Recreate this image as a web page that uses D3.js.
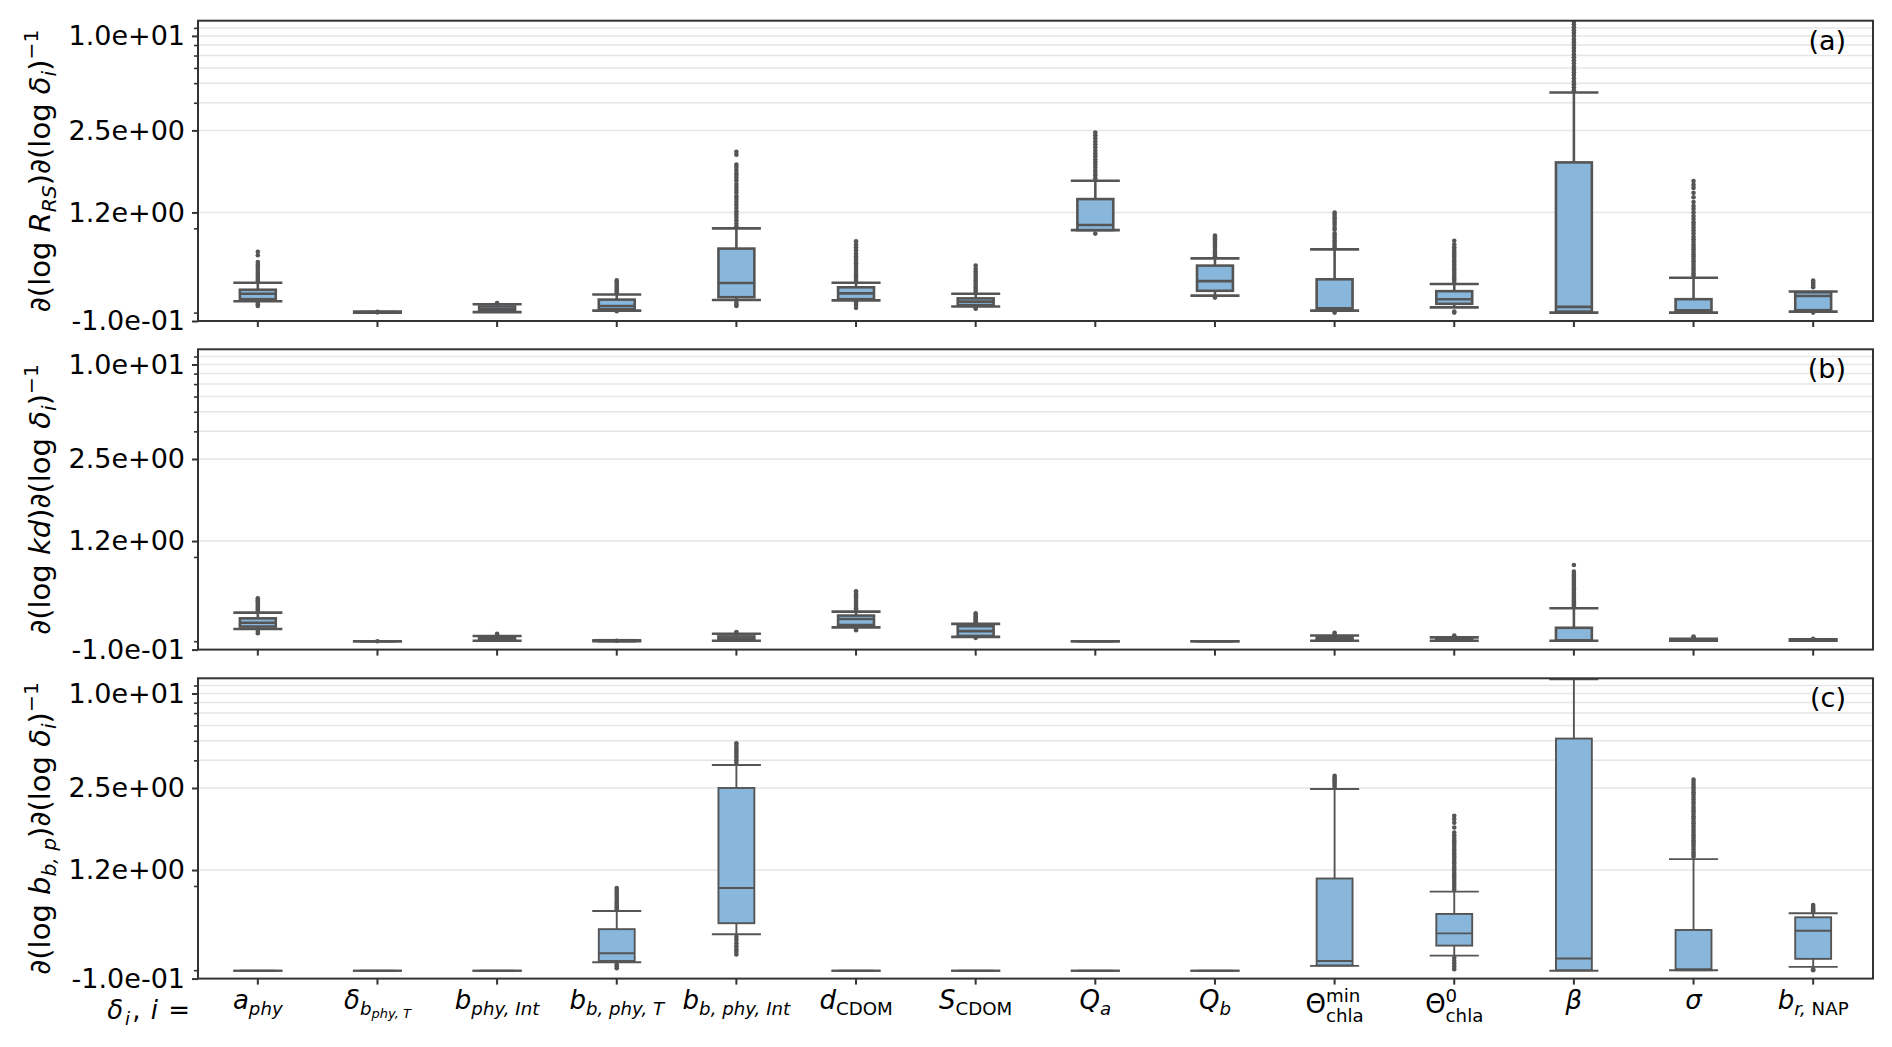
<!DOCTYPE html>
<html lang="en">
<head>
<meta charset="UTF-8">
<script src="https://d3js.org/d3.v7.min.js"></script>
<title>Sensitivity boxplots</title>
<style>
  body { margin: 0; background: #fff; }
  text { font-family: "DejaVu Sans", sans-serif; white-space: pre; fill: #000; }
</style>
</head>
<body>
<svg id="chart" width="1892" height="1047"></svg>
<script>
// ---- data ----
const categories = ["a_phy", "delta_bphyT", "b_phyInt", "b_bphyT", "b_bphyInt", "d_CDOM", "S_CDOM",
                    "Q_a", "Q_b", "Theta_min", "Theta_0", "beta", "sigma", "b_rNAP"];

// y ticks (position value -> printed label)
const yTickVals = [0.122, 0.6, 2, 8];
const yTickLabels = ["-1.0e-01", "1.2e+00", "2.5e+00", "1.0e+01"];
const yMinorVals = [0.138, 0.475, 3, 4, 5, 6, 7, 9];
const gridVals = [0.6, 2, 3, 4, 5, 6, 7, 8, 9];

// [whisker low, q1, median, q3, whisker high]
const statsRrs = [
  [0.163, 0.168, 0.182, 0.193, 0.214],
  [0.138, 0.139, 0.139, 0.139, 0.140],
  [0.139, 0.141, 0.145, 0.151, 0.156],
  [0.142, 0.145, 0.152, 0.167, 0.180],
  [0.166, 0.173, 0.213, 0.353, 0.475],
  [0.165, 0.168, 0.183, 0.200, 0.214],
  [0.151, 0.154, 0.162, 0.170, 0.182],
  [0.463, 0.463, 0.499, 0.730, 0.955],
  [0.177, 0.190, 0.219, 0.275, 0.306],
  [0.142, 0.143, 0.147, 0.225, 0.349],
  [0.149, 0.157, 0.168, 0.189, 0.210],
  [0.138, 0.140, 0.150, 1.25, 3.49],
  [0.138, 0.141, 0.143, 0.168, 0.230],
  [0.140, 0.143, 0.176, 0.186, 0.188]
];
const fliersRrs = [
  [0.152, 0.156, 0.160, 0.22, 0.226, 0.233, 0.24, 0.247, 0.255, 0.263, 0.271, 0.28, 0.29, 0.32, 0.337],
  [0.1385, 0.1395],
  [0.157, 0.159],
  [0.141, 0.184, 0.189, 0.194, 0.199, 0.205, 0.211, 0.216, 0.222],
  [0.152, 0.155, 0.16, 0.49, 0.51, 0.535, 0.56, 0.585, 0.61, 0.64, 0.67, 0.70, 0.73, 0.76, 0.80, 0.835,
   0.87, 0.91, 0.96, 1.0, 1.04, 1.07, 1.12, 1.17, 1.21, 1.40, 1.46],
  [0.148, 0.155, 0.16, 0.22, 0.227, 0.234, 0.242, 0.25, 0.258, 0.266, 0.275, 0.285, 0.295, 0.305, 0.316,
   0.328, 0.345, 0.36, 0.375, 0.393],
  [0.146, 0.148, 0.188, 0.194, 0.2, 0.207, 0.214, 0.221, 0.228, 0.236, 0.244, 0.252, 0.262, 0.275],
  [0.44, 0.99, 1.03, 1.07, 1.11, 1.16, 1.21, 1.26, 1.31, 1.37, 1.43, 1.49, 1.56, 1.63, 1.7, 1.78, 1.86, 1.94],
  [0.172, 0.315, 0.325, 0.335, 0.346, 0.357, 0.369, 0.38, 0.393, 0.405, 0.417, 0.428],
  [0.138, 0.36, 0.372, 0.385, 0.398, 0.412, 0.426, 0.44, 0.465, 0.48, 0.5, 0.52, 0.54, 0.56, 0.58, 0.60],
  [0.138, 0.14, 0.217, 0.224, 0.232, 0.24, 0.248, 0.256, 0.265, 0.274, 0.283, 0.293, 0.303, 0.313, 0.324,
   0.335, 0.347, 0.36, 0.375, 0.396],
  [3.6, 3.76, 3.93, 4.1, 4.3, 4.5, 4.7, 4.9, 5.1, 5.35, 5.6, 5.85, 6.1, 6.4, 6.7, 7.0, 7.3, 7.6, 8.0,
   8.35, 8.7, 9.1, 9.5, 9.9, 10.3],
  [0.238, 0.246, 0.255, 0.264, 0.273, 0.283, 0.293, 0.303, 0.314, 0.325, 0.337, 0.349, 0.362, 0.375,
   0.39, 0.405, 0.42, 0.44, 0.46, 0.48, 0.5, 0.52, 0.545, 0.57, 0.6, 0.63, 0.66, 0.7, 0.75, 0.8, 0.86,
   0.9, 0.95],
  [0.138, 0.2, 0.205, 0.21, 0.215, 0.221]
];

const statsKd = [
  [0.165, 0.171, 0.181, 0.193, 0.210],
  [0.138, 0.138, 0.138, 0.138, 0.138],
  [0.139, 0.140, 0.143, 0.146, 0.149],
  [0.138, 0.138, 0.139, 0.140, 0.140],
  [0.139, 0.140, 0.143, 0.148, 0.154],
  [0.169, 0.175, 0.191, 0.201, 0.213],
  [0.147, 0.149, 0.160, 0.172, 0.178],
  [0.138, 0.138, 0.138, 0.138, 0.138],
  [0.138, 0.138, 0.138, 0.138, 0.138],
  [0.139, 0.140, 0.142, 0.146, 0.150],
  [0.139, 0.139, 0.141, 0.144, 0.146],
  [0.139, 0.139, 0.140, 0.168, 0.224],
  [0.139, 0.139, 0.140, 0.142, 0.143],
  [0.139, 0.139, 0.140, 0.141, 0.142]
];
const fliersKd = [
  [0.155, 0.16, 0.215, 0.22, 0.225, 0.23, 0.236, 0.242, 0.248, 0.253, 0.259],
  [0.138],
  [0.151, 0.154],
  [0.139],
  [0.156, 0.158],
  [0.162, 0.165, 0.218, 0.224, 0.23, 0.236, 0.242, 0.249, 0.256, 0.263, 0.27, 0.278, 0.287],
  [0.145, 0.182, 0.186, 0.19, 0.194, 0.198, 0.203, 0.208],
  [],
  [],
  [0.153, 0.156],
  [0.148, 0.15],
  [0.23, 0.237, 0.244, 0.251, 0.258, 0.266, 0.274, 0.282, 0.29, 0.3, 0.31, 0.32, 0.33, 0.34, 0.35,
   0.36, 0.37, 0.383, 0.422],
  [0.146, 0.148],
  [0.143]
];

const statsBbp = [
  [0.137, 0.137, 0.137, 0.137, 0.137],
  [0.137, 0.137, 0.137, 0.137, 0.137],
  [0.137, 0.137, 0.137, 0.137, 0.137],
  [0.155, 0.158, 0.177, 0.252, 0.329],
  [0.234, 0.275, 0.461, 2.0, 2.80],
  [0.137, 0.137, 0.137, 0.137, 0.137],
  [0.137, 0.137, 0.137, 0.137, 0.137],
  [0.137, 0.137, 0.137, 0.137, 0.137],
  [0.137, 0.137, 0.137, 0.137, 0.137],
  [0.147, 0.148, 0.158, 0.530, 1.97],
  [0.171, 0.198, 0.237, 0.315, 0.437],
  [0.137, 0.138, 0.164, 4.13, 9.84],
  [0.138, 0.138, 0.140, 0.249, 0.704],
  [0.145, 0.163, 0.246, 0.300, 0.318]
];
const fliersBbp = [
  [], [], [],
  [0.142, 0.146, 0.15, 0.338, 0.347, 0.357, 0.367, 0.377, 0.388, 0.4, 0.412, 0.424, 0.436, 0.448, 0.461],
  [0.174, 0.181, 0.188, 0.196, 0.205, 0.215, 0.225, 2.9, 3.0, 3.1, 3.2, 3.3, 3.4, 3.5, 3.6, 3.72, 3.85],
  [], [], [], [],
  [2.03, 2.09, 2.15, 2.21, 2.27, 2.33, 2.39],
  [0.14, 0.146, 0.152, 0.158, 0.165, 0.452, 0.468, 0.484, 0.5, 0.518, 0.536, 0.555, 0.575, 0.595, 0.615,
   0.637, 0.66, 0.683, 0.707, 0.73, 0.757, 0.783, 0.81, 0.84, 0.87, 0.9, 0.93, 0.96, 1.0, 1.04, 1.12,
   1.2, 1.27, 1.33],
  [],
  [0.73, 0.755, 0.78, 0.81, 0.84, 0.87, 0.9, 0.93, 0.965, 1.0, 1.035, 1.07, 1.11, 1.15, 1.19, 1.23,
   1.28, 1.32, 1.37, 1.42, 1.47, 1.52, 1.58, 1.63, 1.69, 1.75, 1.82, 1.88, 1.95, 2.02, 2.1, 2.18, 2.26],
  [0.138, 0.14, 0.325, 0.333, 0.341, 0.35, 0.359]
];

// mathtext-like labels: i = italic, l = level (1 sup, -1 sub, -2 subsub), stack = share x with previous
const xLabelParts = [
  [{t: "a", i: 1}, {t: "phy", i: 1, l: -1}],
  [{t: "δ", i: 1}, {t: "b", i: 1, l: -1}, {t: "phy, T", i: 1, l: -2}],
  [{t: "b", i: 1}, {t: "phy, Int", i: 1, l: -1}],
  [{t: "b", i: 1}, {t: "b, phy, T", i: 1, l: -1}],
  [{t: "b", i: 1}, {t: "b, phy, Int", i: 1, l: -1}],
  [{t: "d", i: 1}, {t: "CDOM", l: -1}],
  [{t: "S", i: 1}, {t: "CDOM", l: -1}],
  [{t: "Q", i: 1}, {t: "a", i: 1, l: -1}],
  [{t: "Q", i: 1}, {t: "b", i: 1, l: -1}],
  [{t: "Θ"}, {t: "min", l: 1}, {t: "chla", l: -1, stack: 1}],
  [{t: "Θ"}, {t: "0", l: 1}, {t: "chla", l: -1, stack: 1}],
  [{t: "β", i: 1}],
  [{t: "σ", i: 1}],
  [{t: "b", i: 1}, {t: "r,", i: 1, l: -1}, {t: " NAP", l: -1}]
];
const yLabelRrs = [{t: "∂(log "}, {t: "R", i: 1}, {t: "RS", i: 1, l: -1}, {t: ")∂(log "}, {t: "δ", i: 1},
                   {t: "i", i: 1, l: -1}, {t: ")"}, {t: "−1", l: 1}];
const yLabelKd = [{t: "∂(log "}, {t: "kd", i: 1}, {t: ")∂(log "}, {t: "δ", i: 1},
                  {t: "i", i: 1, l: -1}, {t: ")"}, {t: "−1", l: 1}];
const yLabelBbp = [{t: "∂(log "}, {t: "b", i: 1}, {t: "b, p", i: 1, l: -1}, {t: ")∂(log "}, {t: "δ", i: 1},
                   {t: "i", i: 1, l: -1}, {t: ")"}, {t: "−1", l: 1}];
const xLead = [{t: "δ", i: 1}, {t: "i", i: 1, l: -1}, {t: ", "}, {t: "i", i: 1}, {t: " ="}];

// ---- layout ----
const svg = d3.select("#chart");
const plotLeft = 198, plotRight = 1873, panelH = 300.3;
const lineCol = "#555555", boxFill = "#89b7dc", gridCol = "#e6e6e6", spineCol = "#333333";
const tickFs = 27, labelFs = 29;

const x = d3.scaleBand().domain(categories).range([plotLeft, plotRight]).padding(0);

// one <text>, one <tspan> per piece; returns total width
function mathText(g, parts, size, gap) {
  gap = gap || 0;
  const t = g.append("text");
  let cx = 0, lastStart = 0;
  parts.forEach((p, k) => {
    const lvl = p.l || 0;
    const fs = size * (lvl === 0 ? 1 : lvl === -2 ? 0.5 : 0.7);
    let dy = 0;
    if (lvl === -1) dy = p.stack ? 0.36 * size : 0.22 * size;
    if (lvl === -2) dy = 0.36 * size;
    if (lvl === 1) dy = -0.42 * size;
    const sx = p.stack ? lastStart : cx + (k > 0 ? gap : 0);
    const ts = t.append("tspan")
      .attr("x", sx).attr("y", dy)
      .attr("font-size", fs)
      .attr("font-style", p.i ? "italic" : "normal")
      .text(p.t);
    const w = ts.node().getComputedTextLength();
    if (p.stack) { cx = Math.max(cx, sx + w); }
    else { lastStart = sx; cx = sx + w; }
  });
  return cx;
}

const panels = [
  {top: 20.7, stats: statsRrs, fliers: fliersRrs, label: yLabelRrs, tag: "(a)", lw: 2.6},
  {top: 349.3, stats: statsKd, fliers: fliersKd, label: yLabelKd, tag: "(b)", lw: 2.6},
  {top: 678.3, stats: statsBbp, fliers: fliersBbp, label: yLabelBbp, tag: "(c)", lw: 1.9}
];

panels.forEach((p, pi) => {
  const y = d3.scaleLog().domain([0.122, 10]).range([p.top + panelH, p.top]);
  const g = svg.append("g");

  g.append("clipPath").attr("id", "clip" + pi)
    .append("rect").attr("x", plotLeft).attr("y", p.top).attr("width", plotRight - plotLeft).attr("height", panelH);

  // grid
  g.selectAll("line.grid").data(gridVals).enter().append("line")
    .attr("class", "grid")
    .attr("x1", plotLeft).attr("x2", plotRight)
    .attr("y1", d => y(d)).attr("y2", d => y(d))
    .attr("stroke", gridCol).attr("stroke-width", 1.5);

  // boxes
  const boxes = g.append("g").attr("clip-path", "url(#clip" + pi + ")")
    .selectAll("g.box")
    .data(categories.map((c, i) => ({cat: c, s: p.stats[i], f: p.fliers[i]})))
    .enter().append("g").attr("class", "box");

  boxes.each(function(d) {
    const b = d3.select(this);
    const [lo, q1, med, q3, hi] = d.s;
    const cx = x(d.cat) + x.bandwidth() / 2;
    const bw = x.bandwidth() * 0.30, cw = x.bandwidth() * 0.41;
    b.append("line").attr("x1", cx).attr("x2", cx).attr("y1", y(q3)).attr("y2", y(hi))
      .attr("stroke", lineCol).attr("stroke-width", p.lw);
    b.append("line").attr("x1", cx).attr("x2", cx).attr("y1", y(q1)).attr("y2", y(lo))
      .attr("stroke", lineCol).attr("stroke-width", p.lw);
    [lo, hi].forEach(v => {
      b.append("line").attr("x1", cx - cw / 2).attr("x2", cx + cw / 2).attr("y1", y(v)).attr("y2", y(v))
        .attr("stroke", lineCol).attr("stroke-width", p.lw);
    });
    b.append("rect").attr("x", cx - bw / 2).attr("y", y(q3))
      .attr("width", bw).attr("height", Math.max(0, y(q1) - y(q3)))
      .attr("fill", boxFill).attr("stroke", lineCol).attr("stroke-width", p.lw);
    b.append("line").attr("x1", cx - bw / 2).attr("x2", cx + bw / 2).attr("y1", y(med)).attr("y2", y(med))
      .attr("stroke", lineCol).attr("stroke-width", p.lw);
    b.selectAll("circle").data(d.f).enter().append("circle")
      .attr("cx", cx).attr("cy", v => y(v)).attr("r", 2.3)
      .attr("fill", lineCol);
  });

  // frame
  g.append("rect").attr("x", plotLeft).attr("y", p.top)
    .attr("width", plotRight - plotLeft).attr("height", panelH)
    .attr("fill", "none").attr("stroke", spineCol).attr("stroke-width", 2);

  // y axis
  const yAxis = g.append("g").attr("transform", "translate(" + plotLeft + ",0)")
    .call(d3.axisLeft(y).tickValues(yTickVals).tickFormat((d, i) => yTickLabels[i]).tickSize(6).tickPadding(7));
  yAxis.select(".domain").remove();
  yAxis.selectAll("line").attr("stroke", spineCol).attr("stroke-width", 2);
  yAxis.selectAll("text").attr("font-size", tickFs).attr("font-family", "DejaVu Sans").attr("fill", "#000");

  const yMinor = g.append("g").attr("transform", "translate(" + plotLeft + ",0)")
    .call(d3.axisLeft(y).tickValues(yMinorVals).tickFormat("").tickSize(4));
  yMinor.select(".domain").remove();
  yMinor.selectAll("line").attr("stroke", spineCol).attr("stroke-width", 1.6);

  // x axis ticks
  const xAxis = g.append("g").attr("transform", "translate(0," + (p.top + panelH) + ")")
    .call(d3.axisBottom(x).tickSize(6).tickFormat(""));
  xAxis.select(".domain").remove();
  xAxis.selectAll("line").attr("stroke", spineCol).attr("stroke-width", 2);

  // y label (rotated)
  const yl = svg.append("g").attr("transform", "translate(50," + (p.top + panelH / 2) + ") rotate(-90)");
  const yli = yl.append("g");
  const wl = mathText(yli, p.label, labelFs);
  yli.attr("transform", "translate(" + (-wl / 2) + ",0)");

  // panel tag
  svg.append("text").attr("x", 1846).attr("y", p.top + 29)
    .attr("text-anchor", "end").attr("font-size", 27).text(p.tag);
});

// x tick labels on bottom panel
const baseY = 1009;
categories.forEach((c, i) => {
  const lg = svg.append("g");
  const inner = lg.append("g");
  const w = mathText(inner, xLabelParts[i], 26);
  const bb = inner.node().getBBox();
  const topRef = -0.93 * 26;
  const shift = Math.max(0, topRef - bb.y);
  lg.attr("transform", "translate(" + (x(c) + x.bandwidth() / 2 - w / 2) + "," + (baseY + shift) + ")");
});

const lead = svg.append("g");
const lw = mathText(lead, xLead, 26, 2);
lead.attr("transform", "translate(" + (190 - lw) + ",1019)");
</script>
</body>
</html>
